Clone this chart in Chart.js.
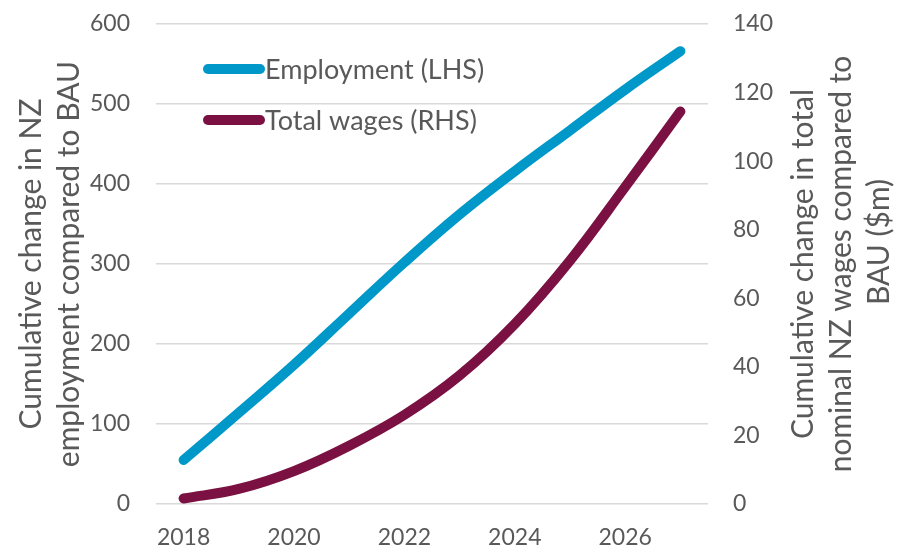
<!DOCTYPE html>
<html>
<head>
<meta charset="utf-8">
<script src="https://cdn.jsdelivr.net/npm/chart.js@4.4.1/dist/chart.umd.min.js"></script>
<style>
  html, body { margin: 0; padding: 0; background: #fff; }
  #wrap { width: 897px; height: 551px; position: relative; }
</style>
</head>
<body>
<div id="wrap"><canvas id="chart"></canvas></div>
<script>
const years = ['2018', '2019', '2020', '2021', '2022', '2023', '2024', '2025', '2026', '2027'];
const employment = [55, 114, 174, 238, 302, 362, 416, 467, 518, 566];
const wages = [1.6, 4.4, 9.6, 17, 26, 37.5, 52.5, 71, 92.5, 114.5];
const seriesNames = ['Employment (LHS)', 'Total wages (RHS)'];
const leftTitle = ['Cumulative change in NZ', 'employment compared to BAU'];
const rightTitle = ['Cumulative change in total', 'nominal NZ wages compared to', 'BAU ($m)'];

const textColor = '#595959';
const fontFamily = 'Lato, "Open Sans", sans-serif';

// draws the legend inside the plot and the two rotated axis titles
const extras = {
  id: 'extras',
  afterDraw(chart) {
    const ctx = chart.ctx;
    const area = chart.chartArea;
    ctx.save();
    ctx.fillStyle = textColor;

    // legend
    ctx.font = '27px ' + fontFamily;
    ctx.textBaseline = 'middle';
    ctx.textAlign = 'left';
    chart.data.datasets.forEach((ds, i) => {
      const y = area.top + 45 + i * 51;
      const x0 = area.left + 52;
      ctx.strokeStyle = ds.borderColor;
      ctx.lineWidth = 10;
      ctx.lineCap = 'round';
      ctx.beginPath();
      ctx.moveTo(x0, y);
      ctx.lineTo(x0 + 52, y);
      ctx.stroke();
      ctx.fillText(ds.label, x0 + 57, y + 1);
    });

    // axis titles, both read bottom to top
    const cy = (area.top + area.bottom) / 2;
    ctx.font = '30px ' + fontFamily;
    ctx.textAlign = 'center';
    ctx.textBaseline = 'alphabetic';
    leftTitle.forEach((line, i) => {
      ctx.save();
      ctx.translate(41 + i * 38, cy);
      ctx.rotate(-Math.PI / 2);
      ctx.fillText(line, 0, 0);
      ctx.restore();
    });
    rightTitle.forEach((line, i) => {
      ctx.save();
      // last line sits a bit higher in the original
      ctx.translate(area.right + 105 + i * 38, i === 2 ? cy - 22 : cy);
      ctx.rotate(-Math.PI / 2);
      ctx.fillText(line, 0, 0);
      ctx.restore();
    });
    ctx.restore();
  }
};

// fixed axis widths, and no extra label padding pushing the plot area in
function fixWidth(w) {
  return scale => {
    scale.width = w;
    scale.paddingTop = 0;
    scale.paddingBottom = 0;
  };
}

new Chart(document.getElementById('chart'), {
  type: 'line',
  data: {
    labels: years,
    datasets: [
      {
        label: seriesNames[0],
        data: employment,
        yAxisID: 'y',
        borderColor: '#0098C8',
        borderWidth: 10,
        borderCapStyle: 'round',
        pointRadius: 0,
        tension: 0.4,
        fill: false
      },
      {
        label: seriesNames[1],
        data: wages,
        yAxisID: 'y1',
        borderColor: '#7A1142',
        borderWidth: 10,
        borderCapStyle: 'round',
        pointRadius: 0,
        tension: 0.4,
        fill: false
      }
    ]
  },
  options: {
    responsive: true,
    maintainAspectRatio: false,
    animation: false,
    layout: { padding: { top: 24, left: 0, right: 0, bottom: 0 } },
    plugins: {
      legend: { display: false },
      tooltip: { enabled: false }
    },
    scales: {
      x: {
        offset: true,
        grid: { display: false },
        border: { display: false },
        ticks: {
          color: textColor,
          font: { family: fontFamily, size: 23 },
          padding: 12,
          autoSkip: false,
          maxRotation: 0,
          callback: function (value, index) {
            return index % 2 === 0 ? this.getLabelForValue(value) : '';
          }
        },
        afterFit: scale => { scale.height = 47; }
      },
      y: {
        position: 'left',
        min: 0,
        max: 600,
        grid: { color: '#D9D9D9', lineWidth: 1.5, drawTicks: false },
        border: { display: false },
        ticks: {
          stepSize: 100,
          color: textColor,
          font: { family: fontFamily, size: 23 },
          padding: 26
        },
        afterFit: fixWidth(156)
      },
      y1: {
        position: 'right',
        min: 0,
        max: 140,
        grid: { display: false, drawTicks: false },
        border: { display: false },
        ticks: {
          stepSize: 20,
          color: textColor,
          font: { family: fontFamily, size: 23 },
          padding: 25
        },
        afterFit: fixWidth(189)
      }
    }
  },
  plugins: [extras]
});
</script>
</body>
</html>
